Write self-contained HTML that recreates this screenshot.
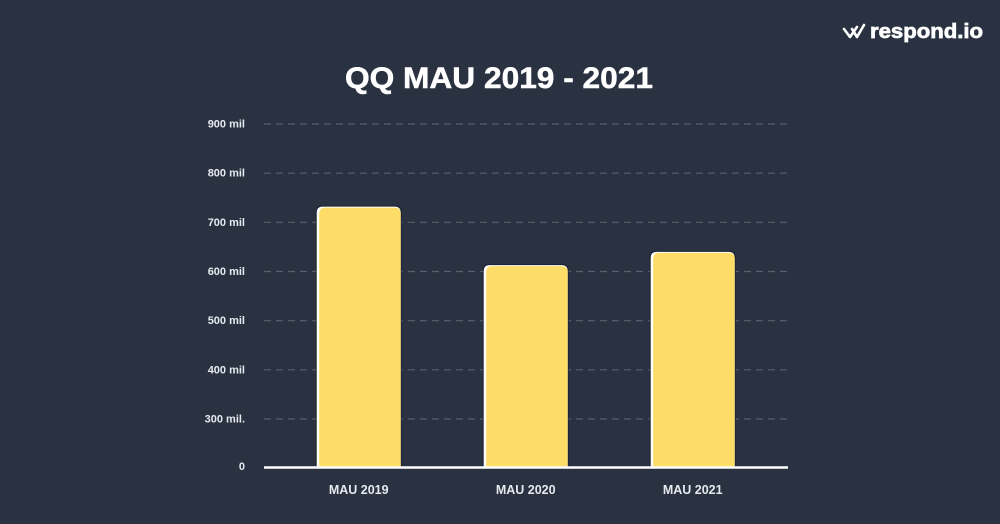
<!DOCTYPE html>
<html>
<head>
<meta charset="utf-8">
<style>
html,body{margin:0;padding:0;background:#2a3241;width:1000px;height:524px;overflow:hidden}
svg{display:block;font-family:"Liberation Sans",sans-serif}
</style>
</head>
<body>
<svg id="chart" width="1000" height="524" viewBox="0 0 1000 524" xmlns="http://www.w3.org/2000/svg">
  <rect x="0" y="0" width="1000" height="524" fill="#2a3241"/>
  <text x="499" y="88" text-anchor="middle" font-size="30" font-weight="700" fill="#ffffff" stroke="#ffffff" stroke-width="0.5" textLength="308" lengthAdjust="spacingAndGlyphs">QQ MAU 2019 - 2021</text>
  <g>
    <path d="M844 29 L850 37 L857 27 M852 29 L857 37 L864 25" fill="none" stroke="#ffffff" stroke-width="2.6" stroke-linejoin="round" stroke-linecap="round"/>
    <text x="870" y="38" font-size="20" font-weight="700" fill="#ffffff" stroke="#ffffff" stroke-width="0.7" textLength="113" lengthAdjust="spacingAndGlyphs">respond.io</text>
  </g>
  <g id="grid"></g>
  <g id="ylabels"></g>
  <g id="bars"></g>
  <g id="baseline"></g>
  <g id="xlabels"></g>
</svg>
<script>
const categories = ["MAU 2019", "MAU 2020", "MAU 2021"];
const mauValues = [732, 613, 640];
const tickValues = [0, 300, 400, 500, 600, 700, 800, 900];
const tickLabels = ["0", "300 mil.", "400 mil", "500 mil", "600 mil", "700 mil", "800 mil", "900 mil"];

const NS = "http://www.w3.org/2000/svg";
const plotLeft = 264, plotRight = 788;
const y0 = 467.5, y300 = 419, y900 = 124;
const barWidth = 84;

// The source axis has a compressed 0-300 segment, so the scale is piecewise.
function yScale(v) {
  if (v <= 300) return y0 - (v / 300) * (y0 - y300);
  return y300 - ((v - 300) / 600) * (y300 - y900);
}
function xScale(i) {
  const first = 358.7, step = 167;
  return first + i * step;
}
function make(tag, attrs, parent) {
  const el = document.createElementNS(NS, tag);
  for (const k in attrs) el.setAttribute(k, attrs[k]);
  parent.appendChild(el);
  return el;
}
function topRounded(x, y, w, h, r) {
  return `M${x} ${y + h} V${y + r} Q${x} ${y} ${x + r} ${y} H${x + w - r} Q${x + w} ${y} ${x + w} ${y + r} V${y + h} Z`;
}

const grid = document.getElementById("grid");
const ylabels = document.getElementById("ylabels");
tickValues.forEach((v, i) => {
  const y = yScale(v);
  if (v !== 0) {
    const line = make("line", {x1: plotLeft, x2: plotRight, y1: y, y2: y, stroke: "#586070", "stroke-width": 1.2, "stroke-dasharray": "7 5"}, grid);
    
    
  }
  const label = make("text", {x: 245, y: y + 3.5 - (v === 0 ? 1 : 0), "text-anchor": "end", "font-size": 11, "font-weight": 700, fill: "#e6e9ef"}, ylabels);
  
  
  label.textContent = tickLabels[i];
});

const bars = document.getElementById("bars");
mauValues.forEach((v, i) => {
  const cx = xScale(i);
  const x = cx - barWidth / 2;
  const y = yScale(v);
  const h = y0 - y;
  const shade = make("path", {d: topRounded(x - 1, y - 1, barWidth + 2, h + 1, 6), fill: "#1c2230"}, bars);
  
  
  const edge = make("path", {d: topRounded(x, y, barWidth, h, 6), fill: "#ffffff"}, bars);
  
  
  const bar = make("path", {d: topRounded(x + 2.5, y + 1, barWidth - 2.5, h - 1, 6), fill: "#fddc67"}, bars);
  
  
});

const baseline = document.getElementById("baseline");
const axisLine = make("line", {x1: plotLeft, x2: plotRight, y1: y0, y2: y0, stroke: "#ffffff", "stroke-width": 2.4}, baseline);



const xlabels = document.getElementById("xlabels");
categories.forEach((c, i) => {
  const t = make("text", {x: xScale(i), y: 494, "text-anchor": "middle", "font-size": 12.5, "font-weight": 700, fill: "#e6e9ef"}, xlabels);
  
  
  t.textContent = c;
});
</script>
</body>
</html>
